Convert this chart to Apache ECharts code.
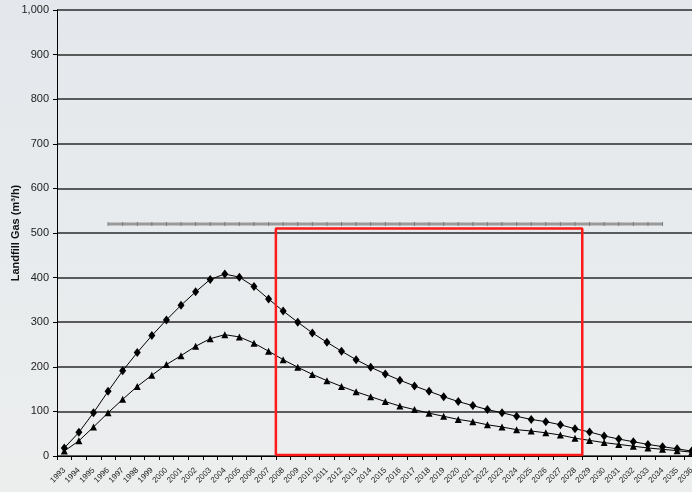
<!DOCTYPE html>
<html>
<head>
<meta charset="utf-8">
<script src="https://cdn.jsdelivr.net/npm/echarts@6/dist/echarts.min.js"></script>
<style>
html,body{margin:0;padding:0;}
#chart{width:692px;height:492px;}
</style>
</head>
<body>
<div id="chart"></div>
<script>
// ---- data ----
var years = ['1993','1994','1995','1996','1997','1998','1999','2000','2001','2002','2003','2004','2005','2006','2007','2008','2009','2010','2011','2012','2013','2014','2015','2016','2017','2018','2019','2020','2021','2022','2023','2024','2025','2026','2027','2028','2029','2030','2031','2032','2033','2034','2035','2036'];
var gasUpper = [18,53,97,145,191,232,270,305,338,368,396,408,401,380,352,325,300,276,255,235,216,199,184,170,157,145,133,122,113,104,97,89,82,77,70,61,54,45,38,32,26,21,16,11];
var gasLower = [11,34,65,97,127,156,181,205,225,246,263,272,267,253,235,216,199,183,169,156,144,133,122,112,104,96,89,82,77,70,65,59,56,52,47,40,35,30,26,22,18,15,12,8.5];
var capacityLevel = 520;
var capacityYears = ['1996','2034'];
var boxYears = ['2008','2028'];   // highlighted period (whole years)
var boxRange = [2, 510];
var yTicks = [0,100,200,300,400,500,600,700,800,900,1000];

// ---- build ----
var capStart = years.indexOf(capacityYears[0]);
var capEnd = years.indexOf(capacityYears[1]);
var capacity = years.map(function(y, i){ return (i >= capStart && i <= capEnd) ? capacityLevel : null; });
var bx0 = years.indexOf(boxYears[0]);
var bx1 = years.indexOf(boxYears[1]) + 1;
var boxData = [[bx0, boxRange[0]],[bx0, boxRange[1]],[bx1, boxRange[1]],[bx1, boxRange[0]],[bx0, boxRange[0]]];

var chart = echarts.init(document.getElementById('chart'));
chart.setOption({
  backgroundColor: new echarts.graphic.LinearGradient(0,0,0,1,[{offset:0,color:'#e4e8ec'},{offset:1,color:'#eceeee'}]),
  animation: false,
  grid: {left: 57, top: 10, right: -7, bottom: 36, containLabel: false, outerBoundsMode: 'none'},
  xAxis: [{
    type: 'category',
    data: years,
    boundaryGap: true,
    axisLine: {lineStyle: {color: '#000', width: 1}},
    axisTick: {show: true, length: 4, lineStyle: {color: '#000'}},
    axisLabel: {rotate: 45, interval: 0, fontSize: 8, color: '#222', fontFamily: 'Liberation Sans, Arial', margin: 13},
    splitLine: {show: false}
  },{
    type: 'value', min: 0, max: years.length, show: false
  }],
  yAxis: {
    type: 'value',
    min: yTicks[0], max: yTicks[yTicks.length-1], interval: 100,
    name: 'Landfill Gas (m³/h)',
    nameLocation: 'middle',
    nameGap: 36,
    nameMoveOverlap: false,
    nameTextStyle: {fontSize: 11, fontWeight: 'bold', color: '#111', fontFamily: 'Liberation Sans, Arial'},
    axisLine: {show: true, lineStyle: {color: '#000', width: 1}},
    axisTick: {show: true, length: 4, lineStyle: {color: '#000'}},
    axisLabel: {
      fontSize: 11, color: '#222', fontFamily: 'Liberation Sans, Arial', margin: 8,
      formatter: function(v){ return v.toLocaleString('en-US'); }
    },
    splitLine: {show: true, lineStyle: {color: '#2a2a2a', width: 1.5}}
  },
  series: [
    {
      type: 'line', data: capacity, xAxisIndex: 0,
      lineStyle: {color: '#9a9a9a', width: 3},
      symbol: 'rect', symbolSize: [1, 4],
      itemStyle: {color: '#7a7a7a'},
      z: 3
    },
    {
      type: 'line', data: gasUpper, xAxisIndex: 0,
      lineStyle: {color: '#000', width: 1},
      symbol: 'diamond', symbolSize: [7, 9],
      itemStyle: {color: '#000'},
      z: 5
    },
    {
      type: 'line', data: gasLower, xAxisIndex: 0,
      lineStyle: {color: '#000', width: 1},
      symbol: 'triangle', symbolSize: 7,
      itemStyle: {color: '#000'},
      z: 5
    },
    {
      type: 'line', data: boxData, xAxisIndex: 1,
      lineStyle: {color: '#ff1a1a', width: 2.5},
      showSymbol: false, symbol: 'none',
      z: 6
    }
  ]
});
</script>
</body>
</html>
